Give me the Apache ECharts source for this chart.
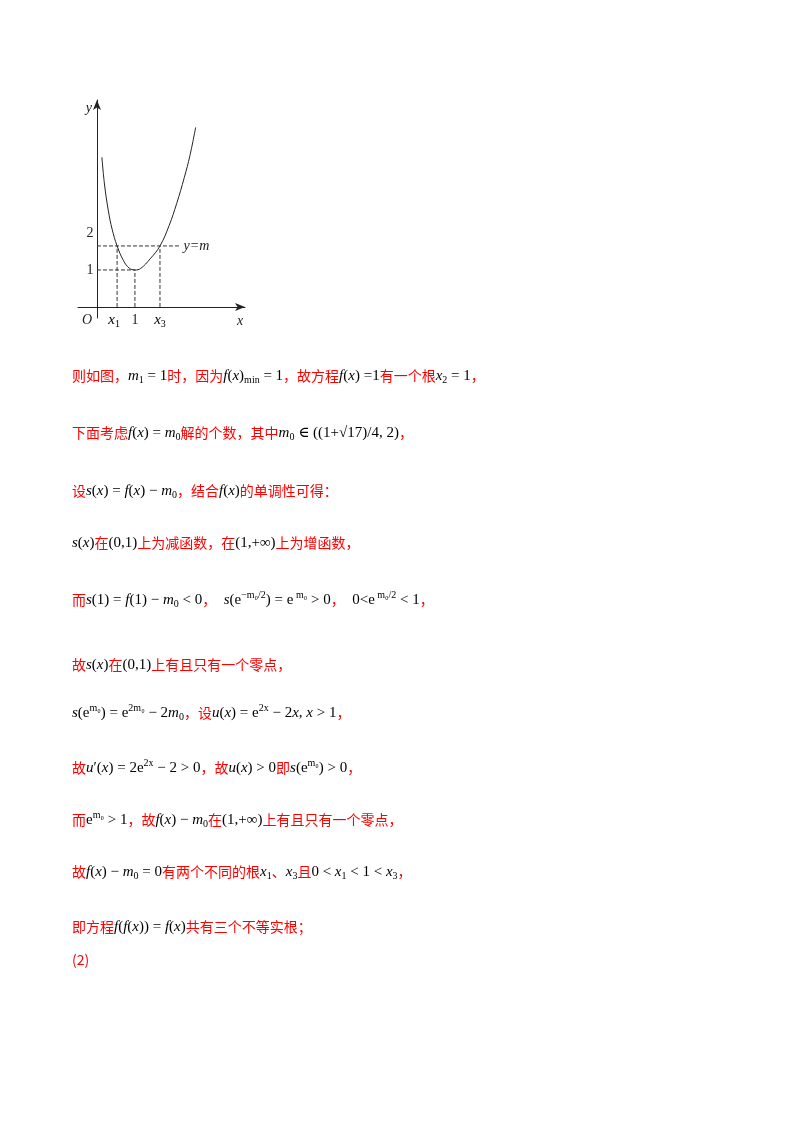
<!DOCTYPE html>
<html><head><meta charset="utf-8">
<script src="https://cdn.jsdelivr.net/npm/echarts@6/dist/echarts.min.js"></script>
<style>html,body{margin:0;background:#fff}#c{width:800px;height:1132px}</style></head>
<body><div id="c"></div>
<script>
var curveX = [0.13,0.2,0.3,0.4,0.53,0.7,0.85,1,1.15,1.4,1.66,1.9,2.1,2.3,2.45,2.6];
var curveY = [4.05,3.3,2.6,2.1,1.65,1.25,1.05,1,1.04,1.3,1.65,2.2,2.8,3.5,4.1,4.86];
var mVal = 1.65, x1 = 0.53, x3 = 1.66, mLineEnd = 2.2;
var lines = [
 {y:376, t:'{r|则如图，}{m|m}{s|1}{n| = 1}{r|时，因为}{m|f}{n|(}{m|x}{n|)}{s|min}{n| = 1}{r|，故方程}{m|f}{n|(}{m|x}{n|) =1}{r|有一个根}{m|x}{s|2}{n| = 1}{r|，}'},
 {y:433, t:'{r|下面考虑}{m|f}{n|(}{m|x}{n|) = }{m|m}{s|0}{r|解的个数，其中}{m|m}{s|0}{n| ∈ (}{n|(1+√17)/4, 2)}{r|，}'},
 {y:491, t:'{r|设}{m|s}{n|(}{m|x}{n|) = }{m|f}{n|(}{m|x}{n|) − }{m|m}{s|0}{r|，结合}{m|f}{n|(}{m|x}{n|)}{r|的单调性可得：}'},
 {y:543, t:'{m|s}{n|(}{m|x}{n|)}{r|在}{n|(0,1)}{r|上为减函数，在}{n|(1,+∞)}{r|上为增函数，}'},
 {y:600, t:'{r|而}{m|s}{n|(1) = }{m|f}{n|(1) − }{m|m}{s|0}{n| < 0}{r|，}{n|  }{m|s}{n|(e}{p|−m₀/2}{n|) = e}{p| m₀}{n| > 0}{r|，}{n|  0<e}{p| m₀/2}{n| < 1}{r|，}'},
 {y:665, t:'{r|故}{m|s}{n|(}{m|x}{n|)}{r|在}{n|(0,1)}{r|上有且只有一个零点，}'},
 {y:713, t:'{m|s}{n|(e}{p|m₀}{n|) = e}{p|2m₀}{n| − 2}{m|m}{s|0}{r|，设}{m|u}{n|(}{m|x}{n|) = e}{p|2x}{n| − 2}{m|x}{n|, }{m|x}{n| > 1}{r|，}'},
 {y:768, t:'{r|故}{m|u}{n|′(}{m|x}{n|) = 2e}{p|2x}{n| − 2 > 0}{r|，故}{m|u}{n|(}{m|x}{n|) > 0}{r|即}{m|s}{n|(e}{p|m₀}{n|) > 0}{r|，}'},
 {y:820, t:'{r|而}{n|e}{p|m₀}{n| > 1}{r|，故}{m|f}{n|(}{m|x}{n|) − }{m|m}{s|0}{r|在}{n|(1,+∞)}{r|上有且只有一个零点，}'},
 {y:872, t:'{r|故}{m|f}{n|(}{m|x}{n|) − }{m|m}{s|0}{n| = 0}{r|有两个不同的根}{m|x}{s|1}{r|、}{m|x}{s|3}{r|且}{n|0 < }{m|x}{s|1}{n| < 1 < }{m|x}{s|3}{r|，}'},
 {y:927, t:'{r|即方程}{m|f}{n|(}{m|f}{n|(}{m|x}{n|)) = }{m|f}{n|(}{m|x}{n|)}{r|共有三个不等实根；}'},
 {y:960, t:'{r|(2)}'}
];
var serif = '"Liberation Serif","DejaVu Serif",serif';
var rich = {
 r:{fill:'#ff0000',fontFamily:'"Noto Sans CJK SC"',fontSize:14},
 m:{fill:'#000',fontFamily:serif,fontStyle:'italic',fontSize:15},
 n:{fill:'#000',fontFamily:serif,fontSize:15},
 s:{fill:'#000',fontFamily:serif,fontSize:10,padding:[8,0,0,0]},
 p:{fill:'#000',fontFamily:serif,fontSize:10,padding:[0,0,10,0]}
};
var dash = {type:'dashed',color:'#333',width:1};
function seg(a){return {type:'line',data:a,symbol:'none',lineStyle:dash,silent:true};}
var chart = echarts.init(document.getElementById('c'));
chart.setOption({
 animation:false,
 grid:{left:78,top:100,width:167,height:218},
 xAxis:{type:'value',min:-0.5,max:3.9,splitLine:{show:false},axisLabel:{show:false},axisTick:{show:false},
   axisLine:{onZero:true,symbol:['none','arrow'],symbolSize:[6,10],lineStyle:{color:'#222'}}},
 yAxis:{type:'value',min:-0.3,max:5.6,splitLine:{show:false},axisLabel:{show:false},axisTick:{show:false},
   axisLine:{onZero:true,symbol:['none','arrow'],symbolSize:[6,10],lineStyle:{color:'#222'}}},
 series:[
  {type:'line',data:curveX.map(function(x,i){return [x,curveY[i]];}),smooth:0.4,symbol:'none',lineStyle:{color:'#222',width:1}},
  seg([[0,mVal],[mLineEnd,mVal]]), seg([[0,1],[1,1]]),
  seg([[x1,0],[x1,mVal]]), seg([[1,0],[1,1]]), seg([[x3,0],[x3,mVal]])
 ]
});
function P(x,y){return chart.convertToPixel({gridIndex:0},[x,y]);}
var g=[];
function lab(txt,x,y,dx,dy,it){var p=P(x,y);g.push({type:'text',x:p[0]+dx,y:p[1]+dy,style:{text:txt,font:(it?'italic ':'')+'14px '+serif,fill:'#222',align:'center',verticalAlign:'middle'}});}
lab('y',0,5.6,-8,8,true); lab('2',0,2,-7,0); lab('1',0,1,-7,0); lab('O',0,0,-10,13,true);
lab('x',3.9,0,-5,14,true); lab('1',1,0,0,13);
lab('y=m',mLineEnd,mVal,16,0,true);
var p1=P(x1,0), p3=P(x3,0);
g.push({type:'text',x:p1[0]-3,y:p1[1]+13,style:{rich:rich,text:'{m|x}{s|1}',align:'center',verticalAlign:'middle'}});
g.push({type:'text',x:p3[0],y:p3[1]+13,style:{rich:rich,text:'{m|x}{s|3}',align:'center',verticalAlign:'middle'}});
lines.forEach(function(l){g.push({type:'text',x:72,y:l.y,style:{text:l.t,rich:rich,verticalAlign:'middle'}});});
chart.setOption({graphic:g});
</script></body></html>
